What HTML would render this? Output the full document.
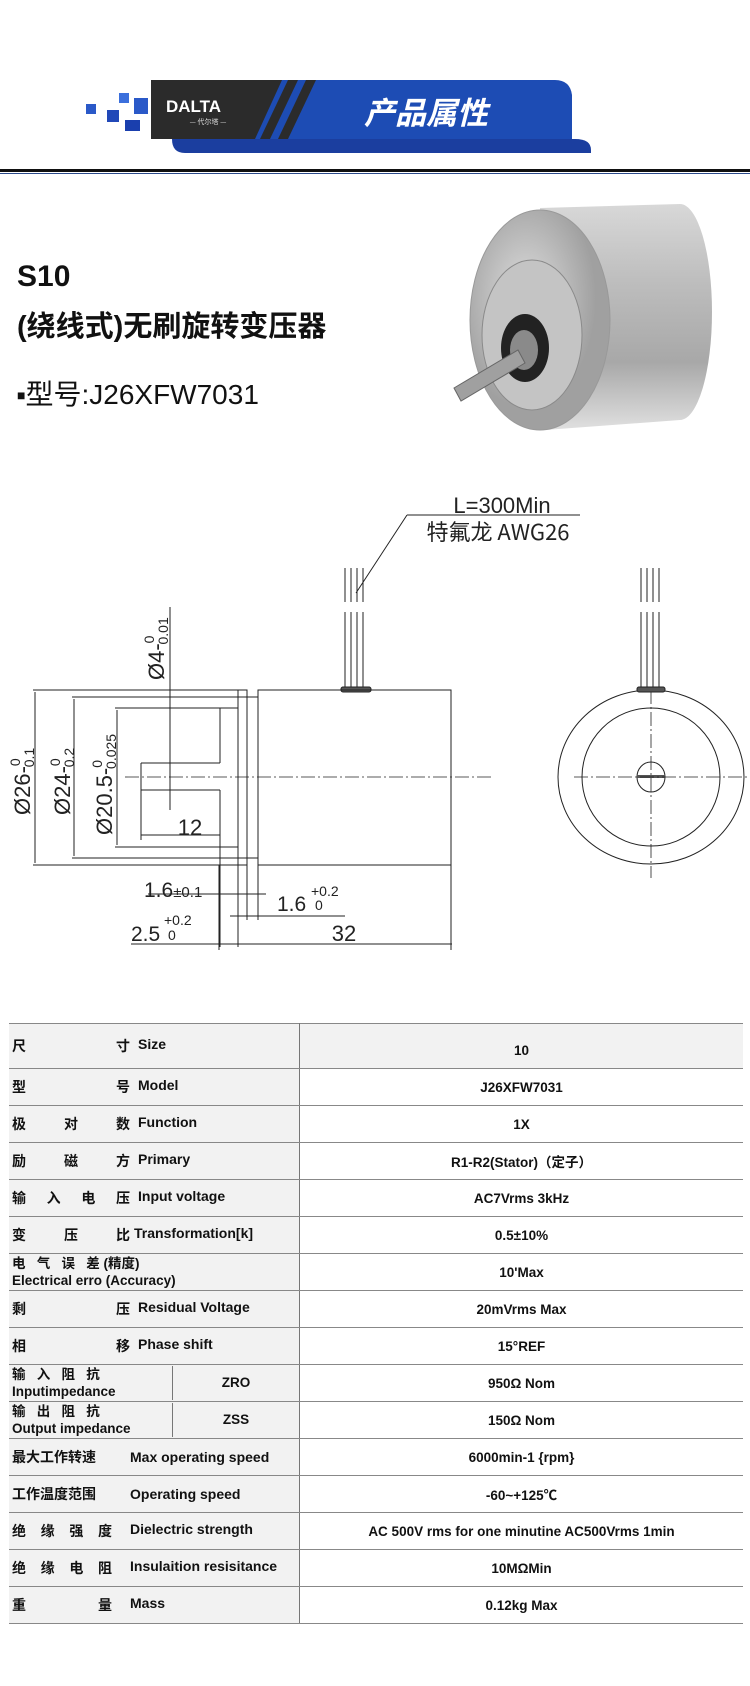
<!DOCTYPE html>
<html><head><meta charset="utf-8"><style>
html,body{margin:0;padding:0;background:#fff;width:750px;height:1686px;overflow:hidden;position:relative;font-family:"Liberation Sans","Noto Sans CJK SC",sans-serif}
.t{position:absolute;color:#111;font-weight:bold;white-space:nowrap}
table{position:absolute;left:9px;top:1023px;width:734px;border-collapse:collapse;font-size:14px;color:#111}
td{height:36px;border-top:1.5px solid #888;border-bottom:1.5px solid #888;padding:0;font-weight:bold}
td.l{background:#f2f2f2;width:287px;padding-left:3px;border-right:1.5px solid #777}
td.r{text-align:center;font-size:13.5px}
.lbl{display:inline-block;width:120px;letter-spacing:0}
.sp{display:flex;justify-content:space-between;width:118px;float:left;margin-right:8px}
.two{font-size:13.5px;line-height:17px}
</style></head><body>
<svg width="750" height="180" style="position:absolute;left:0;top:0">
<rect x="86" y="104" width="10" height="10" fill="#2a59c8"/>
<rect x="107" y="110" width="12" height="12" fill="#2148b8"/>
<rect x="119" y="93" width="10" height="10" fill="#3b6fdc"/>
<rect x="125" y="120" width="15" height="11" fill="#1a3fae"/>
<rect x="134" y="98" width="14" height="16" fill="#2a59c8"/>
<path d="M172 139 H575 Q591 139 591 150 V153 H185 Q172 153 172 139Z" fill="#1b3e9f"/>
<path d="M151 80 H555 Q570 80 572 95 L572 139 H151Z" fill="#1d4cb4"/>
<path d="M151 80 H282 L255 139 H151Z" fill="#2b2b2b"/>
<path d="M288 80 H298 L270 139 H260Z" fill="#2b2b2b"/>
<path d="M306 80 H316 L288 139 H278Z" fill="#2b2b2b"/>
<text x="166" y="112" fill="#fff" font-size="17" font-weight="bold" font-family="Liberation Sans">DALTA</text>
<text x="208" y="124" fill="#ddd" font-size="7" text-anchor="middle" font-family="Noto Sans CJK SC">— 代尔塔 —</text>
<text x="426" y="124" fill="#fff" font-size="31" font-weight="bold" font-style="italic" text-anchor="middle" font-family="Noto Sans CJK SC">产品属性</text>
<rect x="0" y="169" width="750" height="3" fill="#111"/>
<rect x="0" y="173" width="750" height="1" fill="#2a4a8a"/>
</svg>
<div class="t" style="left:17px;top:260px;font-size:30px">S10</div>
<div class="t" style="left:17px;top:303px;font-size:29px;font-family:'Liberation Sans','Noto Sans CJK SC',sans-serif">(绕线式)无刷旋转变压器</div>
<div class="t" style="left:17px;top:373px;font-size:28px;font-weight:normal;font-family:'Liberation Sans','Noto Sans CJK SC',sans-serif"><span style="font-size:14px;vertical-align:4px">■</span>型号:J26XFW7031</div>
<svg width="750" height="260" style="position:absolute;left:0;top:190px">
<defs>
<linearGradient id="g1" x1="0" y1="0" x2="0" y2="1"><stop offset="0" stop-color="#d8d8d8"/><stop offset=".35" stop-color="#bdbdbd"/><stop offset=".7" stop-color="#a8a8a8"/><stop offset="1" stop-color="#e0e0e0"/></linearGradient>
<radialGradient id="g2" cx=".4" cy=".4"><stop offset="0" stop-color="#dedede"/><stop offset="1" stop-color="#a0a0a0"/></radialGradient>
</defs>
<path d="M540 18 L680 14 A32 108 0 0 1 680 230 L545 240 Z" fill="url(#g1)"/>
<ellipse cx="540" cy="130" rx="70" ry="110" fill="url(#g2)" stroke="#999"/>
<ellipse cx="532" cy="145" rx="50" ry="75" fill="#c4c4c4" stroke="#8a8a8a"/>
<ellipse cx="525" cy="158" rx="24" ry="34" fill="#222"/>
<ellipse cx="524" cy="160" rx="14" ry="20" fill="#8a8a8a"/>
<path d="M454 198 L518 160 L525 173 L461 211Z" fill="#a0a0a0" stroke="#666"/>
</svg>
<svg width="750" height="500" viewBox="0 480 750 500" style="position:absolute;left:0;top:480px" fill="none" stroke="#222" stroke-width="1">
<g font-family="Liberation Sans,Noto Sans CJK SC" fill="#222" stroke="none">
<text x="502" y="513" font-size="22" text-anchor="middle">L=300Min</text>
<text x="498" y="540" font-size="22" text-anchor="middle" font-family="Noto Sans CJK SC,sans-serif">特氟龙 AWG26</text>
<text x="190" y="835" font-size="22" text-anchor="middle">12</text>
<text x="144" y="897" font-size="21">1.6<tspan font-size="15">±0.1</tspan></text>
<text x="277" y="911" font-size="21">1.6</text><text x="311" y="896" font-size="14">+0.2</text><text x="315" y="910" font-size="14">0</text>
<text x="131" y="941" font-size="21">2.5</text><text x="164" y="925" font-size="14">+0.2</text><text x="168" y="940" font-size="14">0</text>
<text x="344" y="941" font-size="22" text-anchor="middle">32</text>
<text transform="translate(164,680) rotate(-90)" font-size="22">Ø4-<tspan font-size="14" dy="-10">0</tspan><tspan font-size="14" dx="-9" dy="14">0.01</tspan></text>
<text transform="translate(30,815) rotate(-90)" font-size="22">Ø26-<tspan font-size="14" dy="-10">0</tspan><tspan font-size="14" dx="-9" dy="14">0.1</tspan></text>
<text transform="translate(70,815) rotate(-90)" font-size="22">Ø24-<tspan font-size="14" dy="-10">0</tspan><tspan font-size="14" dx="-9" dy="14">0.2</tspan></text>
<text transform="translate(112,835) rotate(-90)" font-size="22">Ø20.5-<tspan font-size="14" dy="-10">0</tspan><tspan font-size="14" dx="-9" dy="14">0.025</tspan></text>
</g>
<path d="M407 515 H580 M407 515 L356 593"/>
<path d="M345 568 V602 M351 568 V602 M357 568 V602 M363 568 V602 M345 612 V688 M351 612 V688 M357 612 V688 M363 612 V688"/>
<rect x="341" y="687" width="30" height="5" rx="2" fill="#555"/>
<path d="M33 690 H247 V865 H33 M238 690 V947 M258 690 H451 V865 H258Z"/>
<path d="M72 697 H258 M72 858 H258 M115 708 H238 M115 847 H238"/>
<path d="M220 708 V763 M220 790 V947 M141 763 H220 M141 790 H220 M141 763 V840"/>
<path d="M35 692 V863 M74 699 V856 M117 710 V845"/>
<path d="M170 607 V810"/>
<path d="M141 835 H220 M219 865 V950 M247 865 V920 M258 865 V920 M451 865 V950"/>
<path d="M148 894 H266 M230 916 H345 M131 944 H452"/>
<path d="M125 777 H493" stroke-dasharray="14 3 2 3" stroke-width=".8"/>
<ellipse cx="651" cy="777" rx="93" ry="87"/>
<ellipse cx="651" cy="777" rx="69" ry="69"/>
<ellipse cx="651" cy="777" rx="14" ry="15"/>
<rect x="637" y="775" width="28" height="3" fill="#555" stroke="none"/>
<path d="M651 690 V878 M574 777 H749" stroke-dasharray="14 3 2 3" stroke-width=".8"/>
<path d="M641 568 V602 M647 568 V602 M653 568 V602 M659 568 V602 M641 612 V688 M647 612 V688 M653 612 V688 M659 612 V688"/>
<rect x="637" y="687" width="28" height="5" rx="2" fill="#555"/>
</svg>
<table>
<tr><td class="l"><span class="sp"><span>尺</span><span>寸</span></span>Size</td><td class="r" style="background:#f2f2f2;padding-top:8px">10</td></tr>
<tr><td class="l"><span class="sp"><span>型</span><span>号</span></span>Model</td><td class="r">J26XFW7031</td></tr>
<tr><td class="l"><span class="sp"><span>极</span><span>对</span><span>数</span></span>Function</td><td class="r">1X</td></tr>
<tr><td class="l"><span class="sp"><span>励</span><span>磁</span><span>方</span></span>Primary</td><td class="r">R1-R2(Stator)（定子）</td></tr>
<tr><td class="l"><span class="sp"><span>输</span><span>入</span><span>电</span><span>压</span></span>Input voltage</td><td class="r">AC7Vrms 3kHz</td></tr>
<tr><td class="l"><span class="sp" style="margin-right:4px"><span>变</span><span>压</span><span>比</span></span>Transformation[k]</td><td class="r">0.5±10%</td></tr>
<tr><td class="l two">电&nbsp;&nbsp;&nbsp;气&nbsp;&nbsp;&nbsp;误&nbsp;&nbsp;&nbsp;差 (精度)<br>Electrical erro (Accuracy)</td><td class="r">10'Max</td></tr>
<tr><td class="l"><span class="sp"><span>剩</span><span>压</span></span>Residual Voltage</td><td class="r">20mVrms Max</td></tr>
<tr><td class="l"><span class="sp"><span>相</span><span>移</span></span>Phase shift</td><td class="r">15°REF</td></tr>
<tr><td class="l two" style="padding:0"><div style="display:flex"><div style="width:160px;padding-left:3px;border-right:1.5px solid #777">输&nbsp;&nbsp;&nbsp;入&nbsp;&nbsp;&nbsp;阻&nbsp;&nbsp;&nbsp;抗<br>Inputimpedance</div><div style="flex:1;text-align:center;line-height:34px">ZRO</div></div></td><td class="r">950Ω Nom</td></tr>
<tr><td class="l two" style="padding:0"><div style="display:flex"><div style="width:160px;padding-left:3px;border-right:1.5px solid #777">输&nbsp;&nbsp;&nbsp;出&nbsp;&nbsp;&nbsp;阻&nbsp;&nbsp;&nbsp;抗<br>Output impedance</div><div style="flex:1;text-align:center;line-height:34px">ZSS</div></div></td><td class="r">150Ω Nom</td></tr>
<tr><td class="l"><span class="lbl" style="width:118px">最大工作转速</span>Max operating speed</td><td class="r">6000min-1 {rpm}</td></tr>
<tr><td class="l"><span class="lbl" style="width:118px">工作温度范围</span>Operating speed</td><td class="r">-60~+125℃</td></tr>
<tr><td class="l"><span class="sp" style="width:100px;margin-right:18px"><span>绝</span><span>缘</span><span>强</span><span>度</span></span>Dielectric strength</td><td class="r">AC 500V rms for one minutine AC500Vrms 1min</td></tr>
<tr><td class="l"><span class="sp" style="width:100px;margin-right:18px"><span>绝</span><span>缘</span><span>电</span><span>阻</span></span>Insulaition resisitance</td><td class="r">10MΩMin</td></tr>
<tr><td class="l"><span class="sp" style="width:100px;margin-right:18px"><span>重</span><span>量</span></span>Mass</td><td class="r">0.12kg Max</td></tr>
</table>
</body></html>
